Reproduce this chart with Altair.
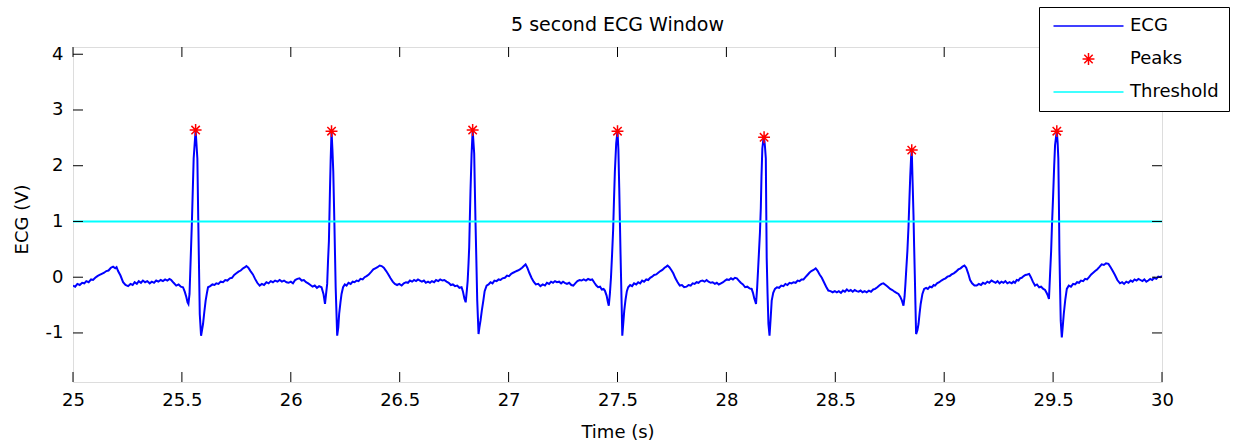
import altair as alt
import pandas as pd

# ---- ECG trace, 25-30 s (seconds, volts) ----
ecg_time = [
    25.000, 25.010, 25.020, 25.031, 25.042, 25.052, 25.061, 25.072, 25.083, 25.092,
    25.102, 25.112, 25.122, 25.132, 25.143, 25.153, 25.163, 25.174, 25.184, 25.194,
    25.200, 25.207, 25.218, 25.230, 25.241, 25.253, 25.264, 25.274, 25.283, 25.293,
    25.302, 25.312, 25.321, 25.331, 25.341, 25.352, 25.362, 25.372, 25.382, 25.392,
    25.403, 25.413, 25.423, 25.433, 25.443, 25.451, 25.462, 25.474, 25.485, 25.495,
    25.505, 25.513, 25.520, 25.526, 25.530, 25.535, 25.539, 25.546, 25.554, 25.563,
    25.571, 25.575, 25.582, 25.588, 25.597, 25.603, 25.609, 25.615, 25.620, 25.630,
    25.640, 25.650, 25.658, 25.668, 25.678, 25.689, 25.699, 25.709, 25.720, 25.730,
    25.740, 25.750, 25.760, 25.770, 25.781, 25.790, 25.796, 25.805, 25.815, 25.826,
    25.836, 25.846, 25.857, 25.867, 25.877, 25.888, 25.898, 25.908, 25.918, 25.928,
    25.939, 25.949, 25.959, 25.969, 25.980, 25.990, 26.000, 26.010, 26.020, 26.030,
    26.040, 26.050, 26.060, 26.070, 26.080, 26.090, 26.100, 26.110, 26.120, 26.130,
    26.141, 26.150, 26.157, 26.162, 26.167, 26.171, 26.175, 26.180, 26.183, 26.187,
    26.191, 26.195, 26.200, 26.206, 26.213, 26.218, 26.222, 26.228, 26.233, 26.240,
    26.248, 26.256, 26.265, 26.275, 26.284, 26.293, 26.302, 26.311, 26.320, 26.330,
    26.339, 26.348, 26.358, 26.368, 26.379, 26.388, 26.398, 26.408, 26.417, 26.427,
    26.438, 26.448, 26.458, 26.468, 26.478, 26.488, 26.498, 26.509, 26.519, 26.529,
    26.538, 26.547, 26.557, 26.566, 26.575, 26.584, 26.593, 26.602, 26.611, 26.620,
    26.630, 26.639, 26.648, 26.658, 26.667, 26.677, 26.686, 26.696, 26.705, 26.715,
    26.725, 26.735, 26.744, 26.754, 26.764, 26.774, 26.784, 26.790, 26.797, 26.803,
    26.808, 26.812, 26.816, 26.819, 26.822, 26.825, 26.830, 26.835, 26.842, 26.845,
    26.848, 26.852, 26.856, 26.862, 26.866, 26.871, 26.877, 26.884, 26.890, 26.899,
    26.908, 26.917, 26.926, 26.935, 26.945, 26.954, 26.963, 26.972, 26.983, 26.993,
    27.002, 27.012, 27.021, 27.031, 27.042, 27.052, 27.062, 27.070, 27.078, 27.086,
    27.095, 27.105, 27.115, 27.125, 27.136, 27.146, 27.157, 27.167, 27.176, 27.186,
    27.195, 27.204, 27.213, 27.222, 27.232, 27.241, 27.250, 27.258, 27.268, 27.278,
    27.288, 27.297, 27.306, 27.316, 27.326, 27.335, 27.345, 27.355, 27.365, 27.375,
    27.384, 27.394, 27.403, 27.411, 27.420, 27.428, 27.436, 27.442, 27.450, 27.456,
    27.460, 27.465, 27.470, 27.475, 27.480, 27.484, 27.488, 27.494, 27.500, 27.504,
    27.508, 27.511, 27.514, 27.519, 27.522, 27.526, 27.531, 27.537, 27.543, 27.549,
    27.558, 27.567, 27.576, 27.586, 27.595, 27.604, 27.613, 27.622, 27.632, 27.641,
    27.650, 27.659, 27.668, 27.678, 27.687, 27.697, 27.706, 27.716, 27.724, 27.730,
    27.738, 27.747, 27.756, 27.766, 27.776, 27.786, 27.796, 27.806, 27.817, 27.826,
    27.836, 27.845, 27.854, 27.863, 27.872, 27.881, 27.890, 27.900, 27.909, 27.918,
    27.928, 27.937, 27.947, 27.956, 27.965, 27.975, 27.985, 27.994, 28.002, 28.012,
    28.021, 28.030, 28.039, 28.048, 28.057, 28.066, 28.076, 28.086, 28.096, 28.106,
    28.116, 28.122, 28.128, 28.133, 28.136, 28.141, 28.145, 28.149, 28.154, 28.158,
    28.161, 28.165, 28.170, 28.173, 28.177, 28.181, 28.183, 28.185, 28.189, 28.193,
    28.198, 28.203, 28.208, 28.215, 28.223, 28.232, 28.242, 28.252, 28.262, 28.271,
    28.280, 28.290, 28.299, 28.308, 28.318, 28.327, 28.336, 28.345, 28.354, 28.363,
    28.372, 28.381, 28.390, 28.400, 28.410, 28.418, 28.428, 28.438, 28.448, 28.458,
    28.468, 28.478, 28.488, 28.498, 28.507, 28.516, 28.526, 28.535, 28.544, 28.553,
    28.562, 28.571, 28.580, 28.589, 28.598, 28.607, 28.616, 28.625, 28.635, 28.644,
    28.654, 28.664, 28.674, 28.683, 28.693, 28.702, 28.712, 28.721, 28.731, 28.741,
    28.752, 28.762, 28.772, 28.781, 28.790, 28.798, 28.806, 28.813, 28.818, 28.822,
    28.826, 28.831, 28.836, 28.840, 28.844, 28.848, 28.851, 28.855, 28.859, 28.862,
    28.865, 28.868, 28.871, 28.877, 28.882, 28.887, 28.892, 28.900, 28.908, 28.917,
    28.925, 28.934, 28.943, 28.952, 28.958, 28.967, 28.977, 28.987, 28.996, 29.006,
    29.015, 29.025, 29.034, 29.044, 29.054, 29.065, 29.075, 29.084, 29.093, 29.101,
    29.110, 29.119, 29.128, 29.139, 29.149, 29.159, 29.169, 29.178, 29.188, 29.198,
    29.207, 29.217, 29.226, 29.236, 29.245, 29.254, 29.263, 29.272, 29.281, 29.290,
    29.300, 29.310, 29.318, 29.325, 29.333, 29.341, 29.348, 29.356, 29.365, 29.373,
    29.382, 29.390, 29.398, 29.407, 29.417, 29.426, 29.436, 29.445, 29.455, 29.463,
    29.470, 29.476, 29.481, 29.486, 29.491, 29.495, 29.500, 29.505, 29.509, 29.513,
    29.517, 29.521, 29.524, 29.527, 29.529, 29.532, 29.535, 29.540, 29.544, 29.549,
    29.556, 29.563, 29.572, 29.582, 29.592, 29.601, 29.610, 29.619, 29.628, 29.638,
    29.647, 29.656, 29.665, 29.675, 29.684, 29.693, 29.702, 29.712, 29.723, 29.733,
    29.743, 29.754, 29.764, 29.774, 29.784, 29.795, 29.807, 29.817, 29.826, 29.836,
    29.846, 29.856, 29.865, 29.874, 29.883, 29.892, 29.901, 29.910, 29.919, 29.928,
    29.937, 29.946, 29.955, 29.964, 29.974, 29.983, 29.992, 30.000,
]
ecg_volts = [
    -0.15, -0.17, -0.12, -0.14, -0.10, -0.11, -0.07, -0.09, -0.04, -0.05,
    -0.01, 0.02, 0.04, 0.06, 0.08, 0.11, 0.12, 0.17, 0.19, 0.16,
    0.18, 0.11, 0.03, -0.09, -0.14, -0.16, -0.12, -0.14, -0.09, -0.12,
    -0.07, -0.10, -0.06, -0.09, -0.07, -0.11, -0.08, -0.10, -0.06, -0.08,
    -0.05, -0.07, -0.04, -0.06, -0.03, -0.05, -0.10, -0.15, -0.13, -0.17,
    -0.18, -0.26, -0.35, -0.45, -0.48, -0.30, 0.17, 1.00, 2.13, 2.64,
    2.13, 1.06, -0.66, -1.05, -0.84, -0.62, -0.42, -0.28, -0.18, -0.16,
    -0.13, -0.14, -0.11, -0.12, -0.08, -0.09, -0.05, -0.06, -0.02, -0.01,
    0.04, 0.07, 0.10, 0.12, 0.16, 0.18, 0.20, 0.17, 0.11, 0.05,
    -0.03, -0.10, -0.15, -0.12, -0.14, -0.09, -0.11, -0.07, -0.09, -0.06,
    -0.08, -0.05, -0.08, -0.06, -0.09, -0.10, -0.08, -0.11, -0.05, -0.03,
    -0.02, -0.06, -0.05, -0.09, -0.11, -0.14, -0.17, -0.15, -0.19, -0.16,
    -0.18, -0.30, -0.48, -0.30, -0.12, 0.30, 0.65, 1.60, 2.10, 2.62,
    2.30, 1.90, 1.00, -0.18, -1.05, -0.90, -0.66, -0.45, -0.30, -0.18,
    -0.13, -0.15, -0.10, -0.12, -0.08, -0.09, -0.06, -0.07, -0.03, -0.04,
    0.00, 0.02, 0.05, 0.09, 0.14, 0.16, 0.18, 0.21, 0.20, 0.17,
    0.11, 0.05, -0.02, -0.08, -0.12, -0.14, -0.12, -0.15, -0.11, -0.09,
    -0.10, -0.06, -0.08, -0.05, -0.07, -0.04, -0.06, -0.08, -0.06, -0.10,
    -0.08, -0.10, -0.07, -0.09, -0.05, -0.07, -0.04, -0.06, -0.05, -0.08,
    -0.10, -0.14, -0.13, -0.16, -0.15, -0.19, -0.18, -0.25, -0.38, -0.45,
    -0.25, -0.07, 0.25, 0.53, 1.05, 1.54, 2.20, 2.64, 2.22, 1.60,
    1.00, 0.30, -0.42, -1.02, -0.90, -0.78, -0.60, -0.42, -0.25, -0.15,
    -0.13, -0.09, -0.11, -0.06, -0.07, -0.04, -0.05, -0.02, -0.01, 0.03,
    0.02, 0.06, 0.08, 0.10, 0.12, 0.14, 0.17, 0.20, 0.23, 0.17,
    0.08, -0.01, -0.08, -0.13, -0.12, -0.16, -0.13, -0.15, -0.10, -0.12,
    -0.08, -0.10, -0.07, -0.09, -0.08, -0.11, -0.08, -0.10, -0.12, -0.10,
    -0.14, -0.15, -0.11, -0.07, -0.05, -0.06, -0.04, -0.06, -0.03, -0.05,
    -0.04, -0.10, -0.15, -0.18, -0.17, -0.22, -0.21, -0.24, -0.33, -0.45,
    -0.51, -0.30, -0.01, 0.40, 0.85, 1.40, 1.90, 2.40, 2.62, 2.30,
    1.60, 1.00, 0.41, -0.48, -1.05, -0.85, -0.60, -0.40, -0.25, -0.18,
    -0.14, -0.16, -0.11, -0.13, -0.09, -0.11, -0.06, -0.08, -0.04, -0.05,
    -0.01, 0.01, 0.04, 0.05, 0.08, 0.11, 0.13, 0.17, 0.19, 0.21,
    0.18, 0.13, 0.07, -0.02, -0.09, -0.15, -0.14, -0.18, -0.17, -0.14,
    -0.15, -0.11, -0.12, -0.09, -0.10, -0.07, -0.06, -0.08, -0.05, -0.08,
    -0.10, -0.09, -0.12, -0.10, -0.13, -0.11, -0.09, -0.06, -0.04, -0.05,
    -0.02, -0.04, -0.01, -0.02, -0.06, -0.10, -0.13, -0.18, -0.17, -0.20,
    -0.21, -0.28, -0.38, -0.44, -0.48, -0.20, 0.10, 0.41, 0.80, 1.24,
    1.80, 2.31, 2.48, 2.51, 2.35, 2.13, 1.20, 0.35, -0.30, -0.84,
    -1.05, -0.75, -0.42, -0.28, -0.21, -0.18, -0.19, -0.15, -0.16, -0.12,
    -0.14, -0.10, -0.11, -0.09, -0.10, -0.06, -0.07, -0.04, -0.04, 0.00,
    0.04, 0.08, 0.11, 0.13, 0.16, 0.12, 0.05, -0.01, -0.09, -0.17,
    -0.24, -0.25, -0.27, -0.25, -0.27, -0.25, -0.28, -0.24, -0.26, -0.22,
    -0.25, -0.23, -0.26, -0.23, -0.25, -0.26, -0.24, -0.27, -0.25, -0.27,
    -0.24, -0.26, -0.22, -0.21, -0.18, -0.15, -0.12, -0.11, -0.14, -0.17,
    -0.21, -0.23, -0.26, -0.28, -0.30, -0.35, -0.42, -0.51, -0.35, -0.12,
    0.15, 0.47, 0.90, 1.36, 1.80, 2.15, 2.28, 1.70, 1.12, 0.55,
    0.05, -0.50, -1.02, -0.95, -0.84, -0.65, -0.48, -0.30, -0.21, -0.19,
    -0.21, -0.17, -0.18, -0.14, -0.15, -0.11, -0.09, -0.06, -0.04, -0.02,
    0.01, 0.02, 0.05, 0.07, 0.10, 0.14, 0.16, 0.19, 0.21, 0.17,
    0.07, -0.05, -0.11, -0.15, -0.15, -0.12, -0.14, -0.10, -0.12, -0.08,
    -0.10, -0.06, -0.08, -0.10, -0.07, -0.11, -0.08, -0.10, -0.07, -0.11,
    -0.09, -0.11, -0.08, -0.10, -0.05, -0.06, -0.02, -0.01, 0.02, 0.04,
    0.05, 0.06, 0.00, -0.08, -0.15, -0.13, -0.18, -0.17, -0.21, -0.23,
    -0.28, -0.33, -0.39, 0.05, 0.47, 0.95, 1.45, 2.00, 2.37, 2.50,
    2.62, 2.40, 2.13, 1.20, 0.47, -0.20, -0.78, -1.08, -0.90, -0.66,
    -0.40, -0.21, -0.15, -0.17, -0.12, -0.13, -0.09, -0.10, -0.06, -0.07,
    -0.03, -0.04, 0.00, 0.05, 0.08, 0.11, 0.14, 0.18, 0.23, 0.22,
    0.25, 0.24, 0.18, 0.11, 0.04, -0.05, -0.11, -0.09, -0.12, -0.08,
    -0.10, -0.06, -0.08, -0.04, -0.06, -0.03, -0.05, -0.07, -0.04, -0.08,
    -0.06, -0.03, -0.05, -0.01, -0.03, 0.01, 0.00, 0.02,
]

# ---- detected R peaks ----
peak_time = [25.563, 26.187, 26.835, 27.500, 28.173, 28.851, 29.517]
peak_volts = [2.64, 2.62, 2.64, 2.62, 2.51, 2.28, 2.62]

# ---- detection threshold ----
threshold_time = [25.0, 30.0]
threshold_volts = [1.0, 1.0]

series_names = ["ECG", "Peaks", "Threshold"]
series_colors = ["#0000ff", "#ff0000", "#00ffff"]

x_ticks = [25, 25.5, 26, 26.5, 27, 27.5, 28, 28.5, 29, 29.5, 30]
y_ticks = [-1, 0, 1, 2, 3, 4]

X_DOMAIN = [25, 30]
Y_DOMAIN = [-1.88, 4.13]
PLOT_W, PLOT_H = 1089, 335
TICK_PX = 10
FONT = "DejaVu Sans"

# legend / marker glyphs (unit-square paths scaled by the symbol size)
LINE_GLYPH = "M-5,0L5,0"
STAR_GLYPH = ("M-0.85,0L0.85,0M0,-0.85L0,0.85"
              "M-0.6,-0.6L0.6,0.6M-0.6,0.6L0.6,-0.6")
shape_range = [LINE_GLYPH, STAR_GLYPH, LINE_GLYPH]

ecg_df = pd.DataFrame({"t": ecg_time, "v": ecg_volts, "series": "ECG"})
peak_df = pd.DataFrame({"t": peak_time, "v": peak_volts, "series": "Peaks"})
thr_df = pd.DataFrame({"t": threshold_time, "v": threshold_volts, "series": "Threshold"})

# inward tick marks on all four sides of the box
dx = TICK_PX * (X_DOMAIN[1] - X_DOMAIN[0]) / PLOT_W
dy = TICK_PX * (Y_DOMAIN[1] - Y_DOMAIN[0]) / PLOT_H
tick_rows = []
for xt in x_ticks:
    tick_rows.append({"t": xt, "t2": xt, "v": Y_DOMAIN[0], "v2": Y_DOMAIN[0] + dy})
    tick_rows.append({"t": xt, "t2": xt, "v": Y_DOMAIN[1], "v2": Y_DOMAIN[1] - dy})
for yt in y_ticks:
    tick_rows.append({"t": X_DOMAIN[0], "t2": X_DOMAIN[0] + dx, "v": yt, "v2": yt})
    tick_rows.append({"t": X_DOMAIN[1], "t2": X_DOMAIN[1] - dx, "v": yt, "v2": yt})
tick_df = pd.DataFrame(tick_rows)

x_enc = alt.X(
    "t:Q",
    scale=alt.Scale(domain=X_DOMAIN, nice=False, zero=False),
    axis=alt.Axis(
        values=x_ticks, labelExpr="datum.value + ''", title="Time (s)", ticks=False,
        tickSize=0, domain=False, grid=False, labelPadding=9, labelFlush=False,
        labelFont=FONT, labelFontSize=18, labelColor="black", titleFont=FONT,
        titleFontSize=18, titleFontWeight="normal", titleColor="black",
        titleBaseline="alphabetic", titleY=55,
    ),
)
y_enc = alt.Y(
    "v:Q",
    scale=alt.Scale(domain=Y_DOMAIN, nice=False, zero=False),
    axis=alt.Axis(
        values=y_ticks, labelExpr="datum.value + ''", title="ECG (V)", ticks=False,
        tickSize=0, domain=False, grid=False, labelPadding=10, labelFlush=False,
        labelFont=FONT, labelFontSize=18, labelColor="black", titleFont=FONT,
        titleFontSize=18, titleFontWeight="normal", titleColor="black",
        titleBaseline="alphabetic", titleX=-46, titleY=172, titleAngle=270,
    ),
)

legend = alt.Legend(
    title=None, orient="none", legendX=966, legendY=-40,
    fillColor="white", strokeColor="black", cornerRadius=0,
    padding=10, labelFont=FONT, labelFontSize=18, labelColor="black",
    symbolSize=196, symbolStrokeWidth=1.5, symbolOffset=30.5, labelOffset=32.5,
    rowPadding=15,
)
color_enc = alt.Color(
    "series:N",
    scale=alt.Scale(domain=series_names, range=series_colors),
    legend=legend,
)
shape_enc = alt.Shape(
    "series:N",
    scale=alt.Scale(domain=series_names, range=shape_range),
    legend=legend,
)

ecg_line = alt.Chart(ecg_df).mark_line(strokeWidth=2, clip=True).encode(
    x=x_enc, y=y_enc, color=color_enc
)
thr_line = alt.Chart(thr_df).mark_line(strokeWidth=2).encode(
    x=x_enc, y=y_enc, color=color_enc
)
peaks = alt.Chart(peak_df).mark_point(filled=False, size=196, strokeWidth=1.5, opacity=1).encode(
    x=x_enc, y=y_enc, color=color_enc, shape=shape_enc
)
ticks = alt.Chart(tick_df).mark_rule(color="black", strokeWidth=1).encode(
    x=x_enc, x2="t2:Q", y=y_enc, y2="v2:Q"
)

chart = alt.layer(ecg_line, thr_line, peaks, ticks).properties(
    width=PLOT_W,
    height=PLOT_H,
    title=alt.Title(
        "5 second ECG Window", font=FONT, fontSize=19, fontWeight="normal",
        color="black", anchor="middle", frame="group", baseline="alphabetic",
        offset=19, dy=62,
    ),
    padding={"left": 73, "top": 47, "right": 73, "bottom": 65},
    autosize=alt.AutoSizeParams(type="none"),
).configure_view(stroke="black", strokeWidth=1).configure(background="white")

chart.save("out.html", embed_options={"renderer": "svg", "actions": False})
